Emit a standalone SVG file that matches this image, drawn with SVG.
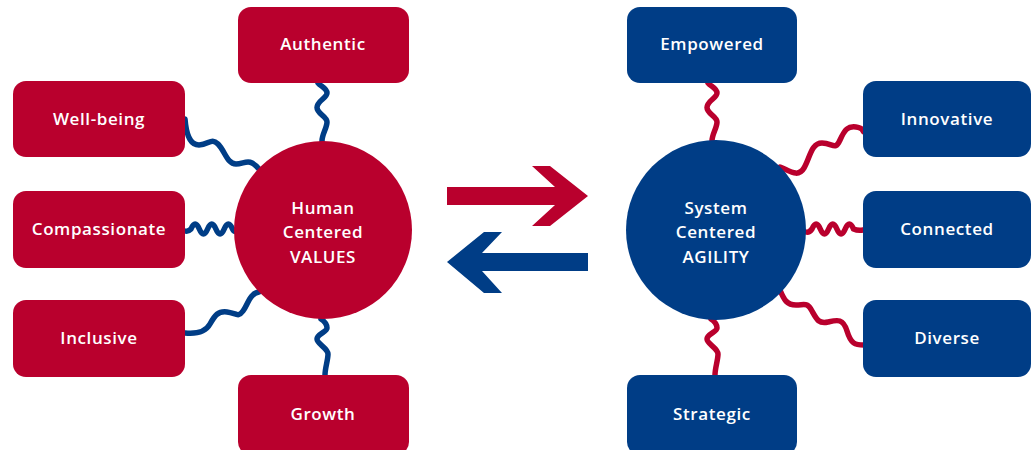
<svg xmlns="http://www.w3.org/2000/svg" width="1031" height="450" viewBox="0 0 1031 450">
<style>
.red{fill:#B9002D}
.blue{fill:#003D86}
.wb{fill:none;stroke:#003D86;stroke-width:5.5;stroke-linecap:round}
.wr{fill:none;stroke:#B9002D;stroke-width:5.5;stroke-linecap:round}
text{font-family:"Open Sans","Liberation Sans",sans-serif;font-weight:600;font-size:17px;letter-spacing:0.6px;fill:#fff;text-anchor:middle;dominant-baseline:central}
</style>
<rect width="1031" height="450" fill="#fff"/>
<g id="connectors">
<path class="wb" d="M318,83 C320,86 327,88 327,93 S317,101 317,107.5 S327,116 327,122 S322,134 322,141"/>
<path class="wb" d="M321,319 C324,321 327,324 327,328 S317,334 317,339 S328,348 328,354 S325,368 325,375"/>
<path class="wb" d="M185,119 C186,132 189,145 199,145 S211,137 218,144 S227,164 236,164 S249,157 259,169"/>
<path class="wb" d="M185,231 Q188,232 191,229 q4.15,-10 8.3,0 t8.3,0 t8.3,0 t8.3,0 t8.3,0 Q234,232 236,231"/>
<path class="wb" d="M185,333 C195,334 205,333 210,324 S218,311 227,312 S238,318 243,311 S250,293 259,292"/>
<path class="wr" d="M708,83 C710,86 717,88 717,93 S707,101 707,107.5 S717,116 717,122 S712,134 712,141"/>
<path class="wr" d="M711,319 C714,321 717,324 717,328 S707,334 707,339 S718,348 718,354 S715,368 715,375"/>
<path class="wr" d="M780,167 C790,171 798,178 804,168 S811,143 822,143 S835,151 840,140 S848,126 856,127 S862,131 864,132"/>
<path class="wr" d="M806,232 Q809,233 812,229 q4.15,-10 8.3,0 t8.3,0 t8.3,0 t8.3,0 t8.3,0 Q858,231 863,230"/>
<path class="wr" d="M780,290 C784,300 787,305 796,305 S807,302 812,311 S819,324 828,322 S843,318 847,331 S855,345 864,345"/>
</g>
<g id="arrows">
<polygon class="red" points="447,187 555,187 532,166 550,166 588,196 550,226 532,226 555,205 447,205"/>
<polygon class="blue" points="588,253 482,253 502,232 484,232 447,262 484,293 502,293 482,271 588,271"/>
</g>
<g id="human"><circle class="red" cx="323" cy="230" r="89"/><text x="323" y="207">Human</text><text x="323" y="231">Centered</text><text x="323" y="256">VALUES</text></g>
<g id="system"><circle class="blue" cx="716" cy="230" r="90"/><text x="716" y="207">System</text><text x="716" y="231">Centered</text><text x="716" y="256">AGILITY</text></g>
<g id="authentic"><rect class="red" x="238" y="7" width="171" height="76" rx="13"/><text x="323" y="43">Authentic</text></g>
<g id="wellbeing"><rect class="red" x="13" y="81" width="172" height="76" rx="13"/><text x="99" y="118">Well-being</text></g>
<g id="compassionate"><rect class="red" x="13" y="191" width="172" height="77" rx="13"/><text x="99" y="228">Compassionate</text></g>
<g id="inclusive"><rect class="red" x="13" y="300" width="172" height="77" rx="13"/><text x="99" y="337">Inclusive</text></g>
<g id="growth"><rect class="red" x="238" y="375" width="171" height="80" rx="13"/><text x="323" y="413">Growth</text></g>
<g id="empowered"><rect class="blue" x="627" y="7" width="170" height="76" rx="13"/><text x="712" y="43">Empowered</text></g>
<g id="innovative"><rect class="blue" x="863" y="81" width="168" height="76" rx="13"/><text x="947" y="118">Innovative</text></g>
<g id="connected"><rect class="blue" x="863" y="191" width="168" height="77" rx="13"/><text x="947" y="228">Connected</text></g>
<g id="diverse"><rect class="blue" x="863" y="300" width="168" height="77" rx="13"/><text x="947" y="337">Diverse</text></g>
<g id="strategic"><rect class="blue" x="627" y="375" width="170" height="80" rx="13"/><text x="712" y="413">Strategic</text></g>
</svg>
